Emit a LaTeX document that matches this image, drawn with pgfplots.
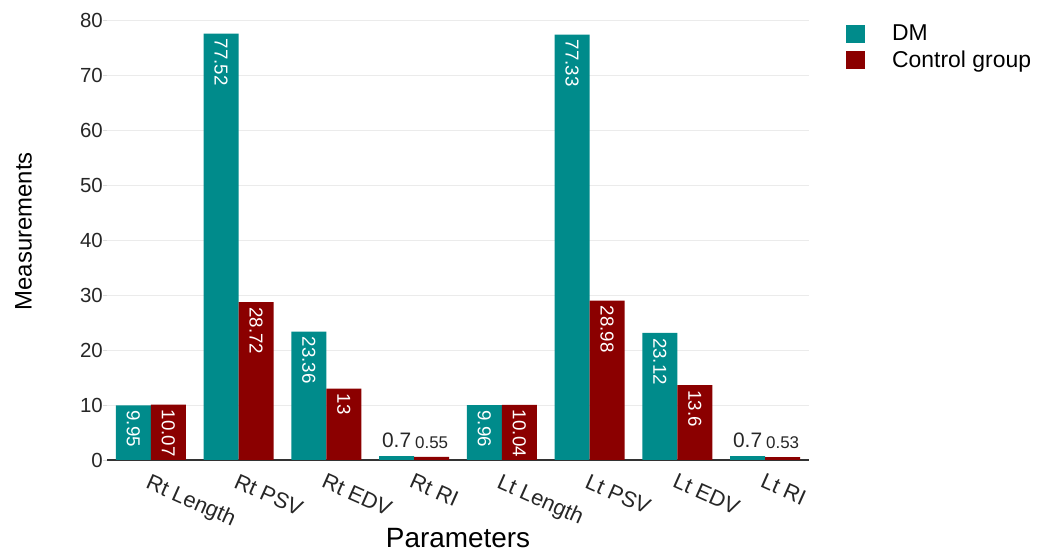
\documentclass[border=0pt]{standalone}
\usepackage{pgfplots}
\pgfplotsset{compat=1.18}
\usepackage{fontspec}
\setmainfont{Liberation Sans}
\definecolor{dmcol}{RGB}{0,139,139}
\definecolor{ctcol}{RGB}{139,0,0}
\begin{document}
\begin{tikzpicture}
\path[use as bounding box] (0,0) rectangle (1039bp,554bp);
\begin{axis}[
  at={(107bp,94bp)}, anchor=south west,
  scale only axis, width=702bp, height=440bp,
  xmin=-0.5, xmax=7.5, ymin=0, ymax=80,
  ybar, bar width=35bp,
  axis lines*=left,
  y axis line style={draw=none},
  x axis line style={draw=black!80, line width=1.1bp},
  xtick={0,1,2,3,4,5,6,7},
  xticklabels={Rt Length,Rt PSV,Rt EDV,Rt RI,Lt Length,Lt PSV,Lt EDV,Lt RI},
  xtick style={draw=none},
  ytick={0,10,...,80},
  ytick style={draw=black!15, line width=0.9bp},
  tick align=outside, major tick length=4bp,
  ymajorgrids, major grid style={draw=black!8, line width=0.9bp},
  /pgf/number format/assume math mode=true,
  yticklabel style={font=\fontsize{20.5}{23}\selectfont, text=black!85, inner sep=0pt, anchor=east},
  xticklabel style={font=\fontsize{22}{25}\selectfont, text=black!85, rotate=-24, anchor=north west, inner sep=0pt, yshift=-8bp, xshift=4bp},
  xlabel={Parameters},
  ylabel={Measurements},
  xlabel style={font=\fontsize{28}{32}\selectfont, at={(axis description cs:0.5,-0.2)}, anchor=base},
  ylabel style={font=\fontsize{24}{27}\selectfont, at={(axis description cs:-0.1075,0.52)}, anchor=base, rotate=0},
  legend style={at={(axis description cs:1.0527,0.99)}, anchor=north west, draw=none, fill=none,
    font=\fontsize{23}{26}\selectfont, inner sep=0pt, row sep=8bp, column sep=27bp,
    cells={anchor=west}, nodes={inner sep=0pt}},
  legend image code/.code={\fill[#1] (0bp,-9bp) rectangle (19bp,9bp);},
  point meta=explicit symbolic,
  nodes near coords={\pgfplotspointmeta},
]
% DM, large values: labels inside bars, rotated
\addplot[fill=dmcol, draw=none, bar shift=-17.5bp,
  every node near coord/.append style={rotate=-90, anchor=west, text=white, inner xsep=5bp, inner ysep=0pt, font=\fontsize{18.8}{21}\selectfont}]
  coordinates {(0,9.95)[9.95] (1,77.52)[77.52] (2,23.36)[23.36] (4,9.96)[9.96] (5,77.33)[77.33] (6,23.12)[23.12]};
\addlegendentry{DM}
% Control, large values
\addplot[fill=ctcol, draw=none, bar shift=17.5bp,
  every node near coord/.append style={rotate=-90, anchor=west, text=white, inner xsep=5bp, inner ysep=0pt, font=\fontsize{18.8}{21}\selectfont}]
  coordinates {(0,10.07)[10.07] (1,28.72)[28.72] (2,13)[13] (4,10.04)[10.04] (5,28.98)[28.98] (6,13.6)[13.6]};
\addlegendentry{Control group}
% DM, RI values: labels above bars
\addplot[fill=dmcol, draw=none, bar shift=-17.5bp, forget plot,
  every node near coord/.append style={anchor=south, text=black!85, inner sep=0pt, yshift=8bp, font=\fontsize{21}{24}\selectfont}]
  coordinates {(3,0.7)[0.7] (7,0.7)[0.7]};
% Control, RI values
\addplot[fill=ctcol, draw=none, bar shift=17.5bp, forget plot,
  every node near coord/.append style={anchor=south, text=black!85, inner sep=0pt, yshift=8bp, font=\fontsize{17}{20}\selectfont}]
  coordinates {(3,0.55)[0.55] (7,0.53)[0.53]};
\end{axis}
\end{tikzpicture}
\end{document}
